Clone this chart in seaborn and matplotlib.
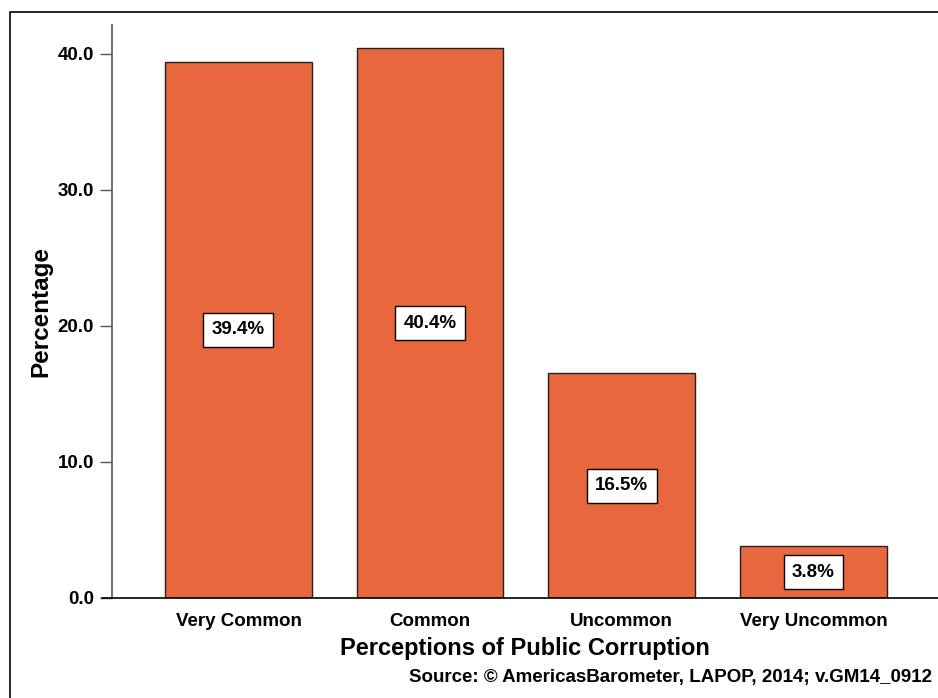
import matplotlib
matplotlib.use("Agg")
import matplotlib.pyplot as plt
import seaborn as sns
import pandas as pd
from matplotlib.patches import Rectangle

categories = ["Very Common", "Common", "Uncommon", "Very Uncommon"]
percentages = [39.4, 40.4, 16.5, 3.8]
bar_labels = ["39.4%", "40.4%", "16.5%", "3.8%"]
yticks = [0.0, 10.0, 20.0, 30.0, 40.0]

df = pd.DataFrame({"Category": categories, "Percentage": percentages})

sns.set_style("white")
plt.rcParams["font.family"] = ["Liberation Sans", "DejaVu Sans"]
plt.rcParams["font.weight"] = "bold"
plt.rcParams["text.color"] = "black"
plt.rcParams["axes.labelcolor"] = "black"
plt.rcParams["xtick.color"] = "black"
plt.rcParams["ytick.color"] = "black"

fig = plt.figure(figsize=(9.38, 6.98), dpi=100)
ax = fig.add_axes([0.1194, 0.1433, 0.8806, 0.8209])

sns.barplot(data=df, x="Category", y="Percentage", color="#E8673F", saturation=1,
            width=0.765, edgecolor="#222222", linewidth=1.0, ax=ax)

# labels in white boxes at mid height
for i, (v, lab) in enumerate(zip(percentages, bar_labels)):
    ax.text(i, v / 2, lab, ha="center", va="center", fontsize=13.5, fontweight="bold",
            color="black",
            bbox=dict(boxstyle="square,pad=0.45", fc="white", ec="black", lw=1.0))

ax.set_xlim(-0.66, 3.65)
ax.set_ylim(0, 42.1)
ax.set_yticks(yticks)
ax.set_yticklabels([f"{t:.1f}" for t in yticks], fontsize=13.5, fontweight="bold")
ax.set_xticks(range(len(categories)))
ax.set_xticklabels(categories, fontsize=13.5, fontweight="bold")
ax.tick_params(axis="y", left=True, length=9, width=1, direction="out", pad=4,
               colors="#555555", labelcolor="black")
ax.tick_params(axis="x", bottom=False, length=0, pad=11)

ax.set_ylabel("Percentage", fontsize=17.5, fontweight="bold", labelpad=4)
ax.set_xlabel("Perceptions of Public Corruption", fontsize=17, fontweight="bold", labelpad=5)

for s in ["top", "right"]:
    ax.spines[s].set_visible(False)
ax.spines["left"].set_color("#555555")
ax.spines["left"].set_linewidth(1.2)
ax.spines["bottom"].set_color("black")
ax.spines["bottom"].set_linewidth(1.2)
ax.spines["bottom"].set_bounds(-0.66 - 0.05, 3.65)
ax.spines["bottom"].set_clip_on(False)

fig.text(0.994, 0.030, "Source: \u00a9 AmericasBarometer, LAPOP, 2014; v.GM14_0912",
         ha="right", va="center", fontsize=13.5, fontweight="bold")

# figure frame (clipped at right and bottom)
fig.patches.append(Rectangle((10 / 938, -0.05), 1.0, 0.05 + 1 - 12 / 698,
                             transform=fig.transFigure, fill=False, ec="black", lw=1.2))

fig.savefig("out.png", dpi=100)
